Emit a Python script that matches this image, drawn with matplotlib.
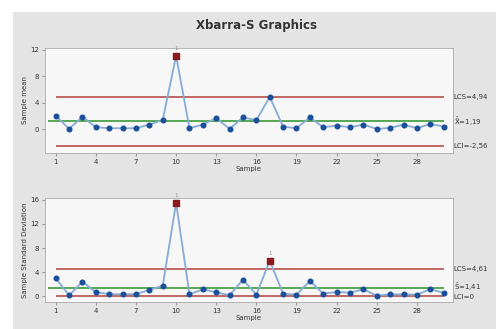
import numpy as np
import matplotlib.pyplot as plt
from matplotlib.patches import Rectangle

samples = np.arange(1, 31)
means = [2.07, 0.05, 1.9, 0.3, 0.15, 0.15, 0.15, 0.7, 1.4, 11.1,
         0.15, 0.7, 1.7, 0.05, 1.8, 1.36, 4.9, 0.4, 0.15, 1.8,
         0.3, 0.55, 0.3, 0.7, 0.05, 0.2, 0.7, 0.15, 0.8, 0.4]
stds = [2.98, 0.17, 2.43, 0.66, 0.39, 0.33, 0.39, 1.05, 1.77, 15.5,
        0.33, 1.16, 0.66, 0.17, 2.76, 0.28, 5.9, 0.44, 0.28, 2.54,
        0.44, 0.72, 0.61, 1.16, 0.11, 0.33, 0.33, 0.28, 1.16, 0.61]
mean_limits = {'lcs': 4.94, 'center': 1.19, 'lci': -2.56}
std_limits = {'lcs': 4.61, 'center': 1.41, 'lci': 0.0}
mean_flags = [10]
std_flags = [10, 17]
xticks = [1, 4, 7, 10, 13, 16, 19, 22, 25, 28]

line_col = '#86acd6'
dot_col = '#1b4f9a'
red_col = '#b5504c'
green_col = '#3a9a3a'
flag_col = '#8b1a1a'

fig = plt.figure(figsize=(4.96, 3.29), dpi=100, facecolor='white')
fig.patches.append(Rectangle((13 / 496, 0), 1, 1 - 12 / 329, transform=fig.transFigure,
                             facecolor='#e4e4e4', edgecolor='none', zorder=-1))
fig.text(0.518, 1 - 25 / 329, 'Xbarra-S Graphics', ha='center', va='center',
         fontsize=8.5, fontweight='bold', color='#333333')

ax1 = fig.add_axes([45 / 496, 1 - 153 / 329, 408 / 496, 105 / 329])
ax2 = fig.add_axes([45 / 496, 1 - 302 / 329, 408 / 496, 104 / 329])


def draw(ax, values, limits, flags, ylabel, ylim, yticks, labels):
    ax.set_facecolor('#f7f7f7')
    ax.hlines(limits['lcs'], 1, 30, color=red_col, lw=1.2)
    ax.hlines(limits['lci'], 1, 30, color=red_col, lw=1.2)
    ax.hlines(limits['center'], 0.4, 30, color=green_col, lw=1.2)
    ax.plot(samples, values, color=line_col, lw=1.3, zorder=3)
    normal = [i for i in range(len(values)) if samples[i] not in flags]
    ax.scatter(samples[normal], np.array(values)[normal], s=11, color=dot_col, zorder=4)
    for f in flags:
        ax.scatter(f, values[f - 1], marker='s', s=13, color=flag_col, zorder=5)
        ax.text(f, values[f - 1] + (ylim[1] - ylim[0]) * 0.045, '1', ha='center', va='bottom',
                fontsize=4, color='#888888')
    ax.set_xlim(0.2, 30.7)
    ax.set_ylim(*ylim)
    ax.set_xticks(xticks)
    ax.set_yticks(yticks)
    ax.tick_params(labelsize=5, length=2, color='#999999', labelcolor='#333333', pad=2)
    for s in ax.spines.values():
        s.set_color('#aaaaaa')
        s.set_linewidth(0.6)
    ax.set_xlabel('Sample', fontsize=5, labelpad=1, color='#333333')
    ax.set_ylabel(ylabel, fontsize=5, labelpad=2, color='#333333')
    for y, txt in labels:
        ax.text(30.75, y, txt, fontsize=5, va='center', ha='left', color='#333333')


draw(ax1, means, mean_limits, mean_flags, 'Sample mean', (-3.6, 12.3), [0, 4, 8, 12],
     [(4.94, 'LCS=4,94'), (1.19, r'$\bar{\bar{\mathrm{X}}}$=1,19'), (-2.56, 'LCI=-2,56')])
draw(ax2, stds, std_limits, std_flags, 'Sample Standard Deviation', (-0.94, 16.3), [0, 4, 8, 12, 16],
     [(4.61, 'LCS=4,61'), (1.5, r'$\bar{\mathrm{S}}$=1,41'), (-0.05, 'LCI=0')])

plt.savefig('out.png', dpi=100, facecolor=fig.get_facecolor())
